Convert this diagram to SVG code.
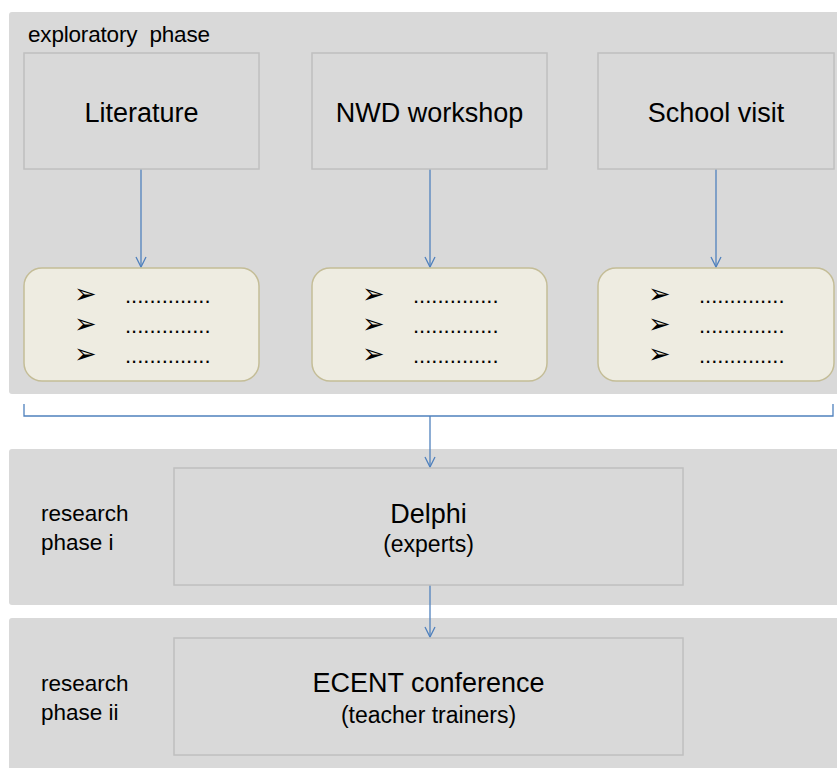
<svg xmlns="http://www.w3.org/2000/svg" width="837" height="768" viewBox="0 0 837 768">
  <style>
    .panel { fill: #d9d9d9; }
    .box { fill: #d9d9d9; stroke: #bfbfbf; stroke-width: 1.5; }
    .list { fill: #eeece1; stroke: #c4bd97; stroke-width: 1.5; }
    .link { fill: none; stroke: #4f81bd; stroke-width: 1.3; }
    text { font-family: "Liberation Sans", Arial, sans-serif; fill: #000; }
    .title { font-size: 27px; text-anchor: middle; }
    .sub { font-size: 23px; text-anchor: middle; }
    .label { font-size: 22.5px; }
    .bullet { font-family: "DejaVu Sans", sans-serif; font-size: 27px; }
    .dots { font-size: 22px; }
  </style>
  <defs>
    <marker id="vee" viewBox="0 0 12 12" refX="11" refY="6" markerWidth="12" markerHeight="12" markerUnits="userSpaceOnUse" orient="auto">
      <path d="M1 1 L11 6 L1 11" fill="none" stroke="#4f81bd" stroke-width="1.3"/>
    </marker>
  </defs>

  <rect width="837" height="768" fill="#ffffff"/>

  <!-- phase panels -->
  <rect class="panel" x="9" y="12" width="832" height="382" rx="3"/>
  <rect class="panel" x="9" y="449" width="832" height="156" rx="3"/>
  <rect class="panel" x="9" y="618" width="832" height="155" rx="3"/>

  <text class="label" x="28" y="42" xml:space="preserve" textLength="182">exploratory  phase</text>
  <text class="label" x="41" y="521">research</text>
  <text class="label" x="41" y="550">phase i</text>
  <text class="label" x="41" y="691">research</text>
  <text class="label" x="41" y="720">phase ii</text>

  <!-- connectors -->
  <g id="connectors">
    <line class="link" x1="141" y1="169" x2="141" y2="267" marker-end="url(#vee)"/>
    <line class="link" x1="430" y1="169" x2="430" y2="267" marker-end="url(#vee)"/>
    <line class="link" x1="716" y1="169" x2="716" y2="267" marker-end="url(#vee)"/>
    <path class="link" d="M24 404 V416 H833 V404"/>
    <line class="link" x1="430" y1="416" x2="430" y2="467" marker-end="url(#vee)"/>
    <line class="link" x1="430" y1="585" x2="430" y2="637" marker-end="url(#vee)"/>
  </g>

  <g id="literature">
    <rect class="box" x="24" y="53" width="235" height="116"/>
    <text class="title" x="141.5" y="122">Literature</text>
  </g>
  <g id="nwd-workshop">
    <rect class="box" x="312" y="53" width="235" height="116"/>
    <text class="title" x="429.5" y="122">NWD workshop</text>
  </g>
  <g id="school-visit">
    <rect class="box" x="598" y="53" width="236" height="116"/>
    <text class="title" x="716" y="122">School visit</text>
  </g>

  <g id="literature-list">
    <rect class="list" x="24" y="268" width="235" height="113" rx="18"/>
    <text class="bullet" x="74" y="303">➢</text>
    <text class="bullet" x="74" y="333">➢</text>
    <text class="bullet" x="74" y="363">➢</text>
    <text class="dots" x="125" y="303">..............</text>
    <text class="dots" x="125" y="333">..............</text>
    <text class="dots" x="125" y="363">..............</text>
  </g>
  <g id="nwd-list">
    <rect class="list" x="312" y="268" width="235" height="113" rx="18"/>
    <text class="bullet" x="362" y="303">➢</text>
    <text class="bullet" x="362" y="333">➢</text>
    <text class="bullet" x="362" y="363">➢</text>
    <text class="dots" x="413" y="303">..............</text>
    <text class="dots" x="413" y="333">..............</text>
    <text class="dots" x="413" y="363">..............</text>
  </g>
  <g id="school-list">
    <rect class="list" x="598" y="268" width="236" height="113" rx="18"/>
    <text class="bullet" x="648" y="303">➢</text>
    <text class="bullet" x="648" y="333">➢</text>
    <text class="bullet" x="648" y="363">➢</text>
    <text class="dots" x="699" y="303">..............</text>
    <text class="dots" x="699" y="333">..............</text>
    <text class="dots" x="699" y="363">..............</text>
  </g>

  <g id="delphi">
    <rect class="box" x="174" y="468" width="509" height="117"/>
    <text class="title" x="428.5" y="523">Delphi</text>
    <text class="sub" x="428.5" y="552">(experts)</text>
  </g>
  <g id="ecent">
    <rect class="box" x="174" y="638" width="509" height="117"/>
    <text class="title" x="428.5" y="692">ECENT conference</text>
    <text class="sub" x="428.5" y="723">(teacher trainers)</text>
  </g>
</svg>
